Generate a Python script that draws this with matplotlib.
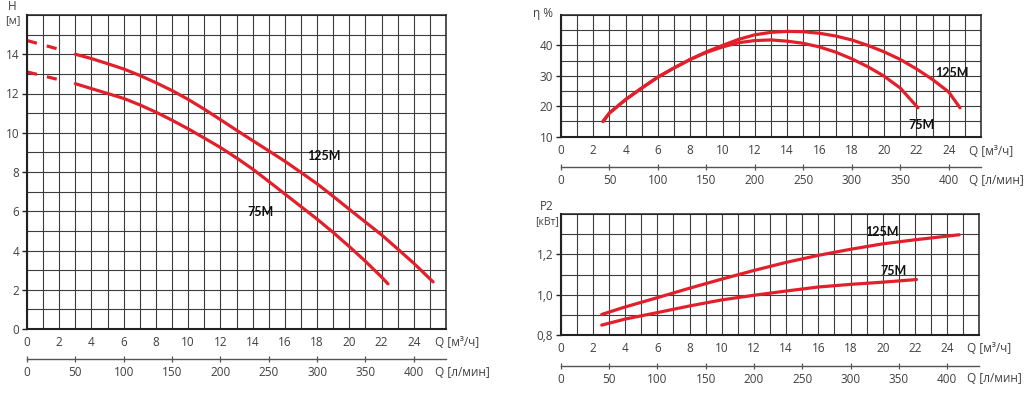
import numpy as np
import matplotlib
matplotlib.use("Agg")
import matplotlib.pyplot as plt
from matplotlib.ticker import FuncFormatter

plt.rcParams['font.family'] = ['Open Sans', 'DejaVu Sans']

# ---------------- data ----------------
# Head curves H [m] vs Q [m3/h]
q_dash = [0, 2]
h125_dash = [14.7, 14.25]
h75_dash = [13.1, 12.7]

q_h125 = [3, 4, 5, 6, 7, 8, 9, 10, 11, 12, 13, 14, 15, 16, 17, 18, 19, 20, 21, 22, 23, 24, 25.2]
h125 = [14.0, 13.78, 13.52, 13.25, 12.92, 12.55, 12.15, 11.7, 11.2, 10.67, 10.13, 9.6, 9.08,
        8.55, 7.98, 7.4, 6.76, 6.1, 5.45, 4.8, 4.08, 3.35, 2.4]
q_h75 = [3, 4, 5, 6, 7, 8, 9, 10, 11, 12, 13, 14, 15, 16, 17, 18, 19, 20, 21, 22, 22.4]
h75 = [12.5, 12.25, 12.0, 11.75, 11.42, 11.05, 10.64, 10.2, 9.73, 9.25, 8.72, 8.15, 7.52,
       6.88, 6.24, 5.6, 4.92, 4.2, 3.45, 2.65, 2.3]

# Efficiency curves eta [%]
q_e125 = [2.6, 3, 4, 5, 6, 7, 8, 9, 10, 11, 12, 13, 14, 15, 16, 17, 18, 19, 20, 21, 22, 23, 24, 24.7]
e125 = [15, 17.8, 22.2, 26.0, 29.6, 32.6, 35.4, 37.9, 40.0, 42.0, 43.5, 44.3, 44.6, 44.5, 44.0,
        43.1, 41.8, 40.0, 37.9, 35.4, 32.3, 28.8, 24.7, 19.5]
q_e75 = [2.6, 3, 4, 5, 6, 7, 8, 9, 10, 11, 12, 13, 14, 15, 16, 17, 18, 19, 20, 21, 22.1]
e75 = [15, 17.8, 22.2, 26.0, 29.6, 32.6, 35.4, 37.7, 39.5, 40.9, 41.6, 41.8, 41.4, 40.7, 39.5,
       37.8, 35.6, 33.0, 29.9, 26.0, 19.5]

# Power curves P2 [kW]
q_p125 = [2.55, 4, 6, 8, 10, 12, 14, 16, 18, 20, 22, 24.75]
p125 = [0.902, 0.939, 0.985, 1.032, 1.077, 1.12, 1.16, 1.195, 1.225, 1.252, 1.272, 1.297]
q_p75 = [2.55, 4, 6, 8, 10, 12, 14, 16, 18, 20, 22.1]
p75 = [0.849, 0.879, 0.911, 0.944, 0.974, 0.997, 1.018, 1.038, 1.051, 1.062, 1.075]

x_ticks = list(range(0, 25, 2))
lmin_ticks = list(range(0, 401, 50))
h_ticks = list(range(0, 15, 2))
eta_ticks = [10, 20, 30, 40]
p_ticks = [0.8, 1.0, 1.2]

# ---------------- style ----------------
RED = '#e2202c'
GRID = '#3c3c3c'
TXT = '#404040'
LW = 2.3
FS = 8.5
LFS = 9

fig = plt.figure(figsize=(10.24, 3.95), dpi=100)
W, H = 1024.0, 395.0


def frac_box(x0, y0, x1, y1):
    return [x0 / W, 1 - y1 / H, (x1 - x0) / W, (y1 - y0) / H]


def fx(x):
    return np.asarray(x) * 1000.0 / 60.0


def fxi(x):
    return np.asarray(x) * 60.0 / 1000.0


def setup(ax, ymin, ymax, ymajor, yminor, sec_loc, fmt=None):
    ax.set_xlim(0, 26)
    ax.set_ylim(ymin, ymax)
    ax.set_xticks(x_ticks)
    ax.set_xticks(np.arange(0, 27, 1), minor=True)
    ax.set_yticks(ymajor)
    ax.set_yticks(yminor, minor=True)
    ax.grid(True, which='both', color=GRID, lw=0.8)
    ax.set_axisbelow(True)
    for s in ax.spines.values():
        s.set_color('#222222')
        s.set_linewidth(1.1)
    ax.spines['left'].set_linewidth(1.5)
    ax.spines['bottom'].set_linewidth(1.5)
    ax.tick_params(axis='x', which='both', length=0, pad=5, labelsize=FS, labelcolor=TXT)
    ax.tick_params(axis='y', which='major', length=3.5, width=1.0, color='#222222', pad=2,
                   labelsize=FS, labelcolor=TXT)
    ax.tick_params(axis='y', which='minor', length=0)
    if fmt is not None:
        ax.yaxis.set_major_formatter(fmt)
    sec = ax.secondary_xaxis(sec_loc, functions=(fx, fxi))
    sec.set_xticks(lmin_ticks)
    sec.spines['bottom'].set_color('#555555')
    sec.spines['bottom'].set_linewidth(1.0)
    sec.tick_params(direction='inout', length=4, width=0.9, color='#555555', pad=3,
                    labelsize=FS, labelcolor=TXT)
    return sec


def curve(ax, x, y):
    ax.plot(x, y, color=RED, lw=LW, solid_joinstyle='round', solid_capstyle='round')


def label(ax, x, y, s):
    ax.text(x, y, s, fontsize=LFS, fontweight='bold', family='Lato', ha='center',
            va='center', color='#111111')


# ---------------- left: H ----------------
ax1 = fig.add_axes(frac_box(27, 15, 446, 329))
setup(ax1, 0, 16, h_ticks, np.arange(0, 17, 1), -30 / 314)
ax1.plot(q_dash, h125_dash, color=RED, lw=LW, dashes=(3.2, 3.2), solid_capstyle='butt')
ax1.plot(q_dash, h75_dash, color=RED, lw=LW, dashes=(3.2, 3.2), solid_capstyle='butt')
curve(ax1, q_h125, h125)
curve(ax1, q_h75, h75)
label(ax1, 18.45, 8.84, '125M')
label(ax1, 14.47, 5.95, '75M')

fig.text(435 / W, 1 - 343 / H, 'Q [м³/ч]', fontsize=FS, color=TXT, ha='left', va='center')
fig.text(435 / W, 1 - 372 / H, 'Q [л/мин]', fontsize=FS, color=TXT, ha='left', va='center')
fig.text(12.5 / W, 1 - 6 / H, 'H', fontsize=FS, color=TXT, ha='center', va='center')
fig.text(12.5 / W, 1 - 21 / H, '[м]', fontsize=FS - 0.5, color=TXT, ha='center', va='center')

# ---------------- top right: eta ----------------
ax2 = fig.add_axes(frac_box(561, 15, 981, 136.7))
setup(ax2, 10, 50, eta_ticks, np.arange(10, 51, 5), -30 / 121.7)
curve(ax2, q_e125, e125)
curve(ax2, q_e75, e75)
label(ax2, 24.2, 31.0, '125M')
label(ax2, 22.33, 13.9, '75M')
fig.text(969 / W, 1 - 151 / H, 'Q [м³/ч]', fontsize=FS, color=TXT, ha='left', va='center')
fig.text(969 / W, 1 - 181 / H, 'Q [л/мин]', fontsize=FS, color=TXT, ha='left', va='center')
fig.text(543 / W, 1 - 13 / H, 'η %', fontsize=FS, color=TXT, ha='center', va='center')

# ---------------- bottom right: P2 ----------------
comma = FuncFormatter(lambda v, p: f'{v:.1f}'.replace('.', ','))
ax3 = fig.add_axes(frac_box(560.7, 214, 979.3, 335))
setup(ax3, 0.8, 1.4, p_ticks, np.arange(0.8, 1.41, 0.1), -30.7 / 121, fmt=comma)
curve(ax3, q_p125, p125)
curve(ax3, q_p75, p75)
label(ax3, 19.95, 1.31, '125M')
label(ax3, 20.66, 1.115, '75M')
fig.text(967 / W, 1 - 349 / H, 'Q [м³/ч]', fontsize=FS, color=TXT, ha='left', va='center')
fig.text(967 / W, 1 - 378 / H, 'Q [л/мин]', fontsize=FS, color=TXT, ha='left', va='center')
fig.text(547 / W, 1 - 207 / H, 'P2', fontsize=FS, color=TXT, ha='center', va='center')
fig.text(547 / W, 1 - 222 / H, '[кВт]', fontsize=FS - 1, color=TXT, ha='center', va='center')

fig.savefig('out.png', dpi=100)
